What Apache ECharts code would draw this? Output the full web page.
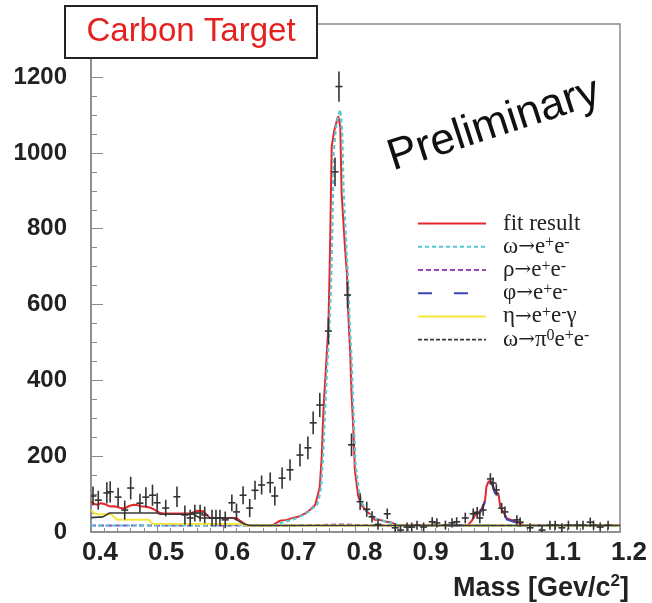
<!DOCTYPE html>
<html><head><meta charset="utf-8">
<script src="https://cdn.jsdelivr.net/npm/echarts@6/dist/echarts.min.js"></script>
<style>html,body{margin:0;padding:0;background:#fff}#c{width:652px;height:603px}</style>
</head><body><div id="c"></div>
<script>
// ---- data points (mass in GeV/c^2, counts, error) ----
var massX = [0.403,0.411,0.424,0.429,0.441,0.451,0.460,0.474,0.483,0.493,0.500,0.513,0.530,0.542,0.550,0.557,0.565,0.572,0.583,0.589,0.595,0.603,0.613,0.620,0.630,0.640,0.648,0.658,0.671,0.678,0.689,0.701,0.716,0.728,0.736,0.746,0.759,0.769,0.775,0.788,0.794,0.807,0.817,0.825,0.834,0.848,0.860,0.868,0.878,0.885,0.893,0.903,0.916,0.923,0.936,0.946,0.953,0.966,0.978,0.984,0.988,0.993,1.004,1.008,1.013,1.021,1.026,1.044,1.049,1.064,1.082,1.094,1.102,1.112,1.122,1.135,1.144,1.155,1.160,1.170,1.182];
var counts = [95,84,103,106,92,58,116,76,92,97,77,63,93,45,37,50,50,45,37,37,37,32,77,53,97,63,110,124,130,95,142,164,203,222,288,335,530,950,1175,625,230,80,60,40,20,48,11,5,13,13,18,13,27,24,18,24,27,37,48,52,37,58,140,129,111,63,53,32,26,11,5,18,18,11,18,18,18,26,18,13,18];
var countErr = [25,25,28,28,25,25,30,25,26,28,25,22,27,25,22,22,22,22,22,22,22,22,22,22,24,24,25,25,27,25,28,28,30,30,30,32,35,38,40,35,30,22,20,15,14,14,12,12,12,12,12,12,12,12,12,12,12,14,14,14,14,15,15,15,15,14,14,12,12,12,12,12,12,12,12,12,12,12,12,12,12];

// ---- curves ----
var fitX = [0.400,0.405,0.410,0.415,0.420,0.425,0.430,0.435,0.440,0.445,0.450,0.455,0.460,0.465,0.470,0.475,0.480,0.485,0.490,0.495,0.500,0.505,0.510,0.550,0.555,0.560,0.570,0.575,0.580,0.620,0.625,0.630,0.635,0.675,0.678,0.686,0.696,0.703,0.713,0.724,0.731,0.739,0.744,0.746,0.749,0.751,0.753,0.756,0.759,0.761,0.762,0.764,0.768,0.772,0.774,0.777,0.779,0.784,0.787,0.789,0.792,0.794,0.797,0.799,0.804,0.809,0.817,0.824,0.829,0.837,0.847,0.855,0.860,0.865,0.970,0.976,0.981,0.986,0.991,0.996,0.998,1.001,1.006,1.008,1.011,1.016,1.019,1.023,1.029,1.036,1.044,1.049,1.055,1.200];
var fitY = [80,74,72,76,74,70,67,68,66,63,62,66,70,72,71,68,67,66,64,60,54,50,49,49,52,56,55,45,37,37,30,24,18,18,21,30,32,36,40,49,58,71,105,120,200,300,366,454,542,700,800,1017,1060,1087,1097,1069,894,753,683,578,472,367,261,164,95,71,54,45,32,32,27,25,20,18,18,30,45,49,62,84,120,133,133,129,106,102,67,54,36,32,27,23,18,18];

var omegaX = [0.400,0.680,0.690,0.700,0.710,0.720,0.728,0.735,0.742,0.745,0.748,0.751,0.754,0.757,0.760,0.763,0.765,0.767,0.770,0.774,0.777,0.780,0.782,0.786,0.789,0.791,0.794,0.796,0.798,0.800,0.805,0.810,0.818,0.826,0.832,0.840,0.850,0.860,0.870,1.200];
var omegaY = [17,18,26,30,36,44,52,62,72,90,120,200,320,430,520,650,800,1000,1060,1100,1114,1050,900,760,660,560,460,360,270,180,110,75,55,42,34,30,26,20,17,17];

var rhoX = [0.400,0.700,0.760,0.780,0.800,0.850,1.200];
var rhoY = [17,17,19,20,19,17,17];

var phiX = [0.940,0.970,0.976,0.981,0.986,0.991,0.996,0.998,1.001,1.006,1.008,1.011,1.016,1.019,1.023,1.029,1.036,1.044,1.049,1.055,1.080];
var phiY = [17,18,28,42,46,58,80,115,128,128,124,102,98,64,50,33,29,24,20,17,17];

var etaX = [0.400,0.408,0.430,0.440,0.488,0.492,0.630,0.635,1.200];
var etaY = [58,47,47,32,32,22,21,17,17];

var dalitzX = [0.400,0.418,0.428,0.500,0.505,0.555,0.565,0.615,0.622,0.630,0.640,1.200];
var dalitzY = [38,40,50,50,47,47,37,37,30,22,17,17];

var xTicks = {min:0.4, max:1.2, step:0.1};
var yTicks = {min:0, max:1340, step:200};

function pairs(xs, ys){ return xs.map(function(x,i){ return [x, ys[i]]; }); }

var richNames = {
  'fit result':'fit result',
  'ω→e+e-':'ω{a|→}e{s|+}e{s|-}',
  'ρ→e+e-':'ρ{a|→}e{s|+}e{s|-}',
  'φ→e+e-':'φ{a|→}e{s|+}e{s|-}',
  'η→e+e-γ':'η{a|→}e{s|+}e{s|-}γ',
  'ω→π0e+e-':'ω{a|→}π{s|0}e{s|+}e{s|-}'
};

var chart = echarts.init(document.getElementById('c'), null, {renderer:'canvas'});
var option = {
  animation:false,
  backgroundColor:'#fff',
  grid:{left:91, right:32, top:24, bottom:71, show:true, borderColor:'#8a8a8a', borderWidth:1.5, backgroundColor:'transparent'},
  xAxis:{
    type:'value', min:xTicks.min, max:xTicks.max, interval:xTicks.step,
    axisLine:{onZero:false, lineStyle:{color:'#8a8a8a', width:1.5}},
    axisTick:{inside:true, length:8, lineStyle:{color:'#8a8a8a', width:1}},
    minorTick:{show:true, splitNumber:5, length:4, lineStyle:{color:'#8a8a8a', width:1}},
    splitLine:{show:false},
    axisLabel:{fontSize:26, fontWeight:'bold', fontFamily:'Liberation Sans', color:'#222', margin:8, padding:[0,0,0,18],
      formatter:function(v){ return v.toFixed(1); }}
  },
  yAxis:{
    type:'value', min:yTicks.min, max:yTicks.max, interval:yTicks.step,
    axisLine:{onZero:false, lineStyle:{color:'#8a8a8a', width:1.5}},
    axisTick:{inside:true, length:12, lineStyle:{color:'#8a8a8a', width:1}},
    minorTick:{show:true, splitNumber:4, length:6, lineStyle:{color:'#8a8a8a', width:1}},
    splitLine:{show:false},
    axisLabel:{fontSize:24, fontWeight:'bold', fontFamily:'Liberation Sans', color:'#222', margin:24,
      formatter:function(v){ return (Math.round(v) % 200 === 0) ? String(Math.round(v)) : ''; }}
  },
  legend:{
    data:['fit result','ω→e+e-','ρ→e+e-','φ→e+e-','η→e+e-γ',
      {name:'ω→π0e+e-', lineStyle:{type:[4,2], color:'#3a3a3a', width:1.6}}],
    orient:'vertical', left:417, top:212, padding:0,
    itemWidth:68, itemHeight:14, itemGap:0,
    itemStyle:{opacity:0, color:'rgba(0,0,0,0)', borderWidth:0},
    textStyle:{fontFamily:'Liberation Serif', fontSize:23, color:'#222', lineHeight:23.2, padding:[0,0,0,12],
      rich:{
        s:{fontFamily:'Liberation Serif', fontSize:16, lineHeight:9, verticalAlign:'top', color:'#222'},
        a:{fontFamily:'DejaVu Serif', fontSize:20, color:'#222'}
      }},
    formatter:function(n){ return richNames[n] || n; }
  },
  series:[
    {name:'fit result', type:'line', data:pairs(fitX, fitY), symbol:'none', z:2,
      lineStyle:{color:'#e5262a', width:2}, itemStyle:{color:'#e5262a'}},
    {name:'ρ→e+e-', type:'line', data:pairs(rhoX, rhoY), symbol:'none', z:3,
      lineStyle:{color:'#9a44c0', width:2, type:[5,3]}, itemStyle:{color:'#9a44c0'}},
    {name:'ω→e+e-', type:'line', data:pairs(omegaX, omegaY), symbol:'none', z:4,
      lineStyle:{color:'#56c8d8', width:2.2, type:[4,3]}, itemStyle:{color:'#56c8d8'}},
    {name:'η→e+e-γ', type:'line', data:pairs(etaX, etaY), symbol:'none', z:5,
      lineStyle:{color:'#f4e73a', width:2}, itemStyle:{color:'#f4e73a'}},
    {name:'φ→e+e-', type:'line', data:pairs(phiX, phiY), symbol:'none', z:5,
      lineStyle:{color:'#3d46b5', width:2, type:[14,22]}, itemStyle:{color:'#3d46b5'}},
    {name:'ω→π0e+e-', type:'line', data:pairs(dalitzX, dalitzY), symbol:'none', z:6,
      lineStyle:{color:'#3a3a3a', width:1.6}, itemStyle:{color:'#3a3a3a'}},
    {name:'data', type:'custom', z:7, clip:true,
      data:massX.map(function(x,i){ return [x, counts[i], countErr[i]]; }),
      encode:{x:0, y:1},
      renderItem:function(params, api){
        var x = api.value(0), y = api.value(1), e = api.value(2);
        var c = api.coord([x, y]);
        var t = api.coord([x, y + e]);
        var b = api.coord([x, Math.max(0, y - e)]);
        var st = {stroke:'#333', lineWidth:1.6};
        return {type:'group', children:[
          {type:'line', shape:{x1:c[0], y1:t[1], x2:c[0], y2:b[1]}, style:st},
          {type:'line', shape:{x1:c[0]-3.5, y1:c[1], x2:c[0]+3.5, y2:c[1]}, style:st}
        ]};
      }
    }
  ],
  graphic:[
    {type:'rect', z:100, shape:{x:65, y:6, width:252, height:52},
      style:{fill:'#fff', stroke:'#222', lineWidth:2}},
    {type:'text', z:101, x:191, y:32,
      style:{text:'Carbon Target', fill:'#e3211f', font:'33px "Liberation Sans"', textAlign:'center', textVerticalAlign:'middle'}},
    {type:'text', z:101, x:494, y:125, rotation:18*Math.PI/180,
      style:{text:'Preliminary', fill:'#111', font:'44px "Liberation Sans"', textAlign:'center', textVerticalAlign:'middle'}},
    {type:'text', z:101, x:629, y:589,
      style:{text:'Mass [Gev/c{s|2}]', fill:'#222', font:'bold 27px "Liberation Sans"', textAlign:'right', textVerticalAlign:'middle',
        lineHeight:32,
        rich:{s:{font:'bold 17px "Liberation Sans"', fill:'#222', lineHeight:15, verticalAlign:'top'}}}}
  ]
};
chart.setOption(option);
</script>
</body></html>
